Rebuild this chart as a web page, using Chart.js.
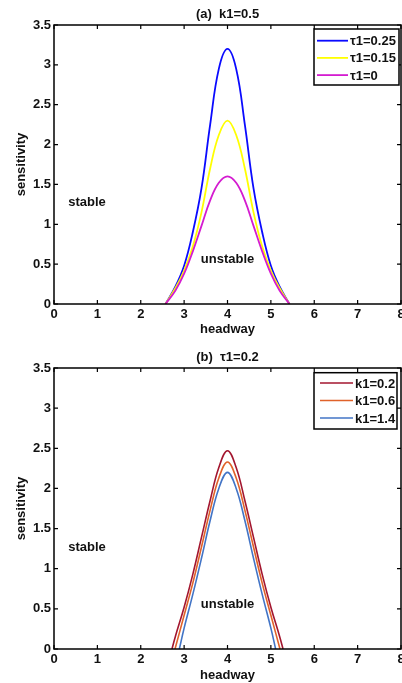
<!DOCTYPE html>
<html>
<head>
<meta charset="utf-8">
<script src="https://cdn.jsdelivr.net/npm/chart.js@4.4.1/dist/chart.umd.min.js"></script>
<style>
    html, body { margin: 0; padding: 0; background: #fff; overflow: hidden; }
    .panel { position: absolute; left: 0; width: 402px; }
    #panelA { top: 0; height: 340px; }
    #panelB { top: 341px; height: 342px; }
</style>
</head>
<body>
<div class="panel" id="panelA"><canvas id="chartA"></canvas></div>
<div class="panel" id="panelB"><canvas id="chartB"></canvas></div>
<script>
// values: headway (x) vs critical sensitivity (y)

// (a) k1 = 0.5
const hwA    = [2.57, 2.8, 3.0, 3.2, 3.4, 3.6, 3.8, 4.0, 4.2, 4.4, 4.6, 4.8, 5.0, 5.2, 5.43];
const tau025 = [0, 0.22, 0.48, 0.90, 1.45, 2.25, 2.95, 3.20, 2.95, 2.25, 1.45, 0.90, 0.48, 0.22, 0];
const tau015 = [0, 0.20, 0.42, 0.72, 1.15, 1.70, 2.12, 2.30, 2.12, 1.70, 1.15, 0.72, 0.42, 0.20, 0];
const tau0   = [0, 0.17, 0.38, 0.66, 0.98, 1.30, 1.52, 1.60, 1.52, 1.30, 0.98, 0.66, 0.38, 0.17, 0];

// (b) tau1 = 0.2
const hwK02 = [2.72, 2.8, 3.0, 3.2, 3.4, 3.6, 3.8, 4.0, 4.2, 4.4, 4.6, 4.8, 5.0, 5.2, 5.28];
const k02   = [0, 0.16, 0.52, 0.93, 1.39, 1.85, 2.26, 2.47, 2.26, 1.85, 1.39, 0.93, 0.52, 0.16, 0];
const hwK06 = [2.79, 3.0, 3.2, 3.4, 3.6, 3.8, 4.0, 4.2, 4.4, 4.6, 4.8, 5.0, 5.21];
const k06   = [0, 0.42, 0.82, 1.27, 1.73, 2.13, 2.33, 2.13, 1.73, 1.27, 0.82, 0.42, 0];
const hwK14 = [2.89, 3.0, 3.2, 3.4, 3.6, 3.8, 4.0, 4.2, 4.4, 4.6, 4.8, 5.0, 5.11];
const k14   = [0, 0.26, 0.68, 1.13, 1.60, 2.00, 2.20, 2.00, 1.60, 1.13, 0.68, 0.26, 0];

const FONT = { family: '"Liberation Sans", Arial, sans-serif', size: 13, weight: 'bold' };

function pts(xs, ys) { return xs.map((x, i) => ({ x: x, y: ys[i] })); }

function line(label, xs, ys, color, width, order) {
    return {
        label: label, data: pts(xs, ys), borderColor: color, backgroundColor: color,
        borderWidth: width, pointRadius: 0, fill: false, tension: 0.4, order: order
    };
}

// MATLAB-style box with inward ticks on all 4 sides
const framePlugin = {
    id: 'frame',
    afterDatasetsDraw(chart) {
        const { ctx, chartArea: a, scales: { x, y } } = chart;
        ctx.save();
        ctx.strokeStyle = '#000';
        ctx.lineWidth = 1.5;
        ctx.strokeRect(a.left, a.top, a.right - a.left, a.bottom - a.top);
        ctx.lineWidth = 1.2;
        ctx.beginPath();
        x.ticks.forEach(t => {
            const px = x.getPixelForValue(t.value);
            ctx.moveTo(px, a.bottom); ctx.lineTo(px, a.bottom - 4);
            ctx.moveTo(px, a.top); ctx.lineTo(px, a.top + 4);
        });
        y.ticks.forEach(t => {
            const py = y.getPixelForValue(t.value);
            ctx.moveTo(a.left, py); ctx.lineTo(a.left + 4, py);
            ctx.moveTo(a.right, py); ctx.lineTo(a.right - 4, py);
        });
        ctx.stroke();
        ctx.restore();
    }
};

// region text + boxed legend drawn inside the plot
const boxLegendPlugin = {
    id: 'boxLegend',
    afterDraw(chart, args, o) {
        const { ctx, scales: { x, y } } = chart;
        ctx.save();
        ctx.font = 'bold 13px "Liberation Sans", Arial, sans-serif';
        ctx.fillStyle = '#111';
        ctx.textAlign = 'center';
        ctx.textBaseline = 'middle';
        (o.notes || []).forEach(n => ctx.fillText(n.text, x.getPixelForValue(n.x), y.getPixelForValue(n.y)));

        ctx.fillStyle = '#fff';
        ctx.fillRect(o.left, o.top, o.width, o.height);
        ctx.strokeStyle = '#000';
        ctx.lineWidth = 1.5;
        ctx.strokeRect(o.left, o.top, o.width, o.height);
        ctx.textAlign = 'left';
        chart.data.datasets.forEach((ds, i) => {
            const cy = o.top + o.firstRow + i * o.rowH;
            ctx.strokeStyle = ds.borderColor;
            ctx.lineWidth = ds.borderWidth;
            ctx.beginPath();
            ctx.moveTo(o.left + o.lineFrom, cy);
            ctx.lineTo(o.left + o.lineTo, cy);
            ctx.stroke();
            ctx.fillStyle = '#111';
            ctx.fillText(ds.label, o.left + o.textX, cy + 1);
        });
        ctx.restore();
    }
};

function makeChart(id, p) {
    return new Chart(document.getElementById(id), {
        type: 'line',
        data: { datasets: p.datasets },
        plugins: [framePlugin, boxLegendPlugin],
        options: {
            responsive: true,
            maintainAspectRatio: false,
            animation: false,
            layout: { padding: { left: 0, right: 1, top: 0, bottom: 0 } },
            plugins: {
                legend: { display: false },
                tooltip: { enabled: false },
                title: {
                    display: true, text: p.title, fullSize: false, color: '#111', font: FONT,
                    padding: { top: p.titleTop, bottom: p.titleBottom }
                },
                boxLegend: p.legend
            },
            scales: {
                x: {
                    type: 'linear', min: 0, max: 8,
                    ticks: { stepSize: 1, padding: 3, color: '#111', font: FONT },
                    grid: { display: false, drawTicks: false }, border: { display: false },
                    title: { display: true, text: 'headway', color: '#111', font: FONT, padding: { top: 0, bottom: p.xTitleBottom } },
                    afterFit(s) { s.height = p.xAxisH; s.paddingLeft = 0; s.paddingRight = 0; }
                },
                y: {
                    type: 'linear', min: 0, max: 3.5,
                    ticks: { stepSize: 0.5, padding: 3, color: '#111', font: FONT, callback: v => String(v) },
                    grid: { display: false, drawTicks: false }, border: { display: false },
                    title: { display: true, text: 'sensitivity', color: '#111', font: FONT, padding: { top: 14, bottom: 0 } },
                    afterFit(s) { s.width = 54; s.paddingTop = 0; s.paddingBottom = 0; }
                }
            }
        }
    });
}

makeChart('chartA', {
    title: '(a)  k1=0.5',
    titleTop: 6.2, titleBottom: 3.2, xAxisH: 36, xTitleBottom: 3.2,
    datasets: [
        line('τ1=0.25', hwA, tau025, '#0a0aff', 1.8, 2),
        line('τ1=0.15', hwA, tau015, '#ffff00', 1.8, 1),
        line('τ1=0', hwA, tau0, '#d41cd0', 1.8, 0)
    ],
    legend: {
        left: 314, top: 29, width: 85, height: 56, firstRow: 11.7, rowH: 17.2,
        lineFrom: 3, lineTo: 34, textX: 36,
        notes: [{ text: 'stable', x: 0.76, y: 1.28 }, { text: 'unstable', x: 4, y: 0.56 }]
    }
});

makeChart('chartB', {
    title: '(b)  τ1=0.2',
    titleTop: 8.2, titleBottom: 3.2, xAxisH: 34, xTitleBottom: 0.2,
    datasets: [
        line('k1=0.2', hwK02, k02, '#a3162f', 1.6, 0),
        line('k1=0.6', hwK06, k06, '#e0622a', 1.6, 1),
        line('k1=1.4', hwK14, k14, '#4274c6', 1.6, 2)
    ],
    legend: {
        left: 314, top: 31.7, width: 83, height: 56.3, firstRow: 10.3, rowH: 17.5,
        lineFrom: 6, lineTo: 39, textX: 41,
        notes: [{ text: 'stable', x: 0.76, y: 1.27 }, { text: 'unstable', x: 4, y: 0.55 }]
    }
});
</script>
</body>
</html>
